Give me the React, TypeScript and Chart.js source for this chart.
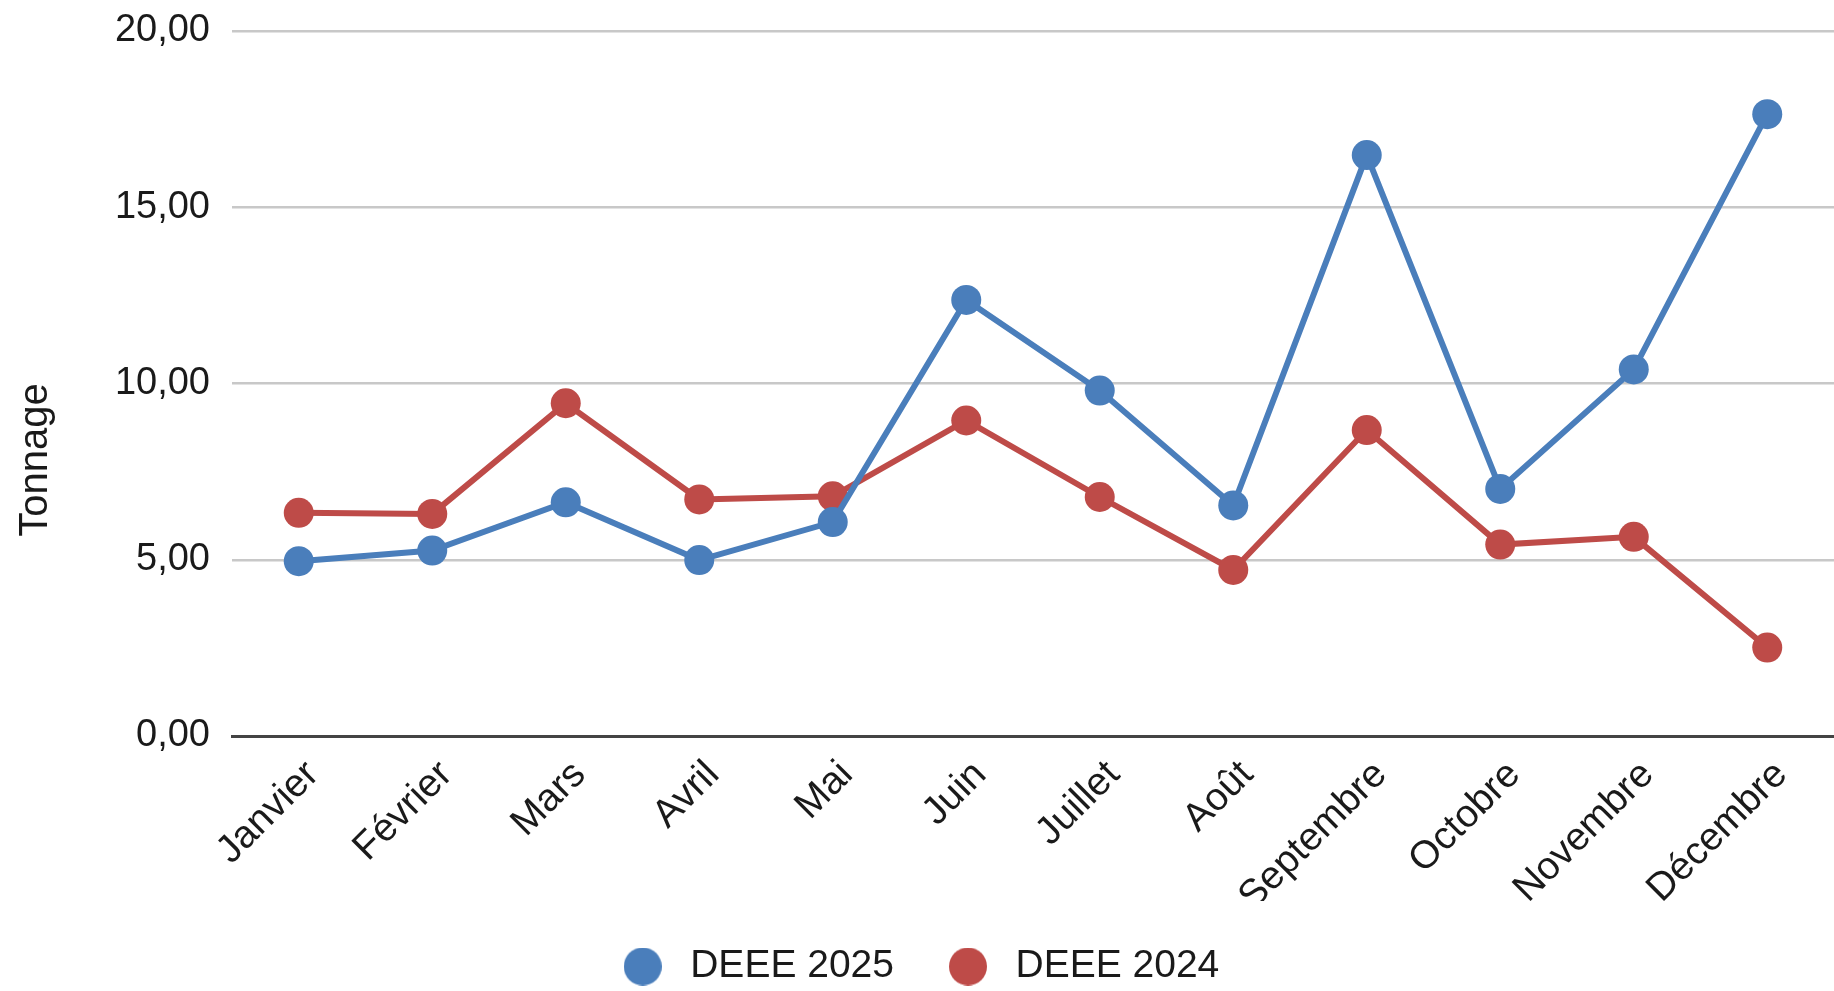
import React, { useEffect, useRef } from "react";
import { Chart, registerables } from "chart.js";

Chart.register(...registerables);

const MONTHS = [
  "Janvier",
  "Février",
  "Mars",
  "Avril",
  "Mai",
  "Juin",
  "Juillet",
  "Août",
  "Septembre",
  "Octobre",
  "Novembre",
  "Décembre",
];

const SERIES_LABELS = ["DEEE 2025", "DEEE 2024"];
const DEEE_2025 = [4.96, 5.26, 6.63, 4.99, 6.07, 12.37, 9.8, 6.54, 16.48, 7.01, 10.4, 17.64];
const DEEE_2024 = [6.33, 6.3, 9.44, 6.71, 6.8, 8.95, 6.78, 4.71, 8.68, 5.43, 5.65, 2.51];
const Y_TITLE = "Tonnage";
const Y_MIN = 0;
const Y_MAX = 20;
const Y_STEP = 5;

const COLORS = ["#4a7ebb", "#be4b48"];
const FONT = '"Liberation Sans", Arial, sans-serif';
const TEXT_COLOR = "#1a1a1a";

function makeDot(color: string, r: number): HTMLCanvasElement {
  const c = document.createElement("canvas");
  c.width = r * 2;
  c.height = r * 2;
  const g = c.getContext("2d");
  if (g) {
    g.fillStyle = color;
    g.beginPath();
    g.arc(r, r, r, 0, Math.PI * 2);
    g.fill();
  }
  return c;
}

const yTitlePlugin = {
  id: "yTitleLeft",
  afterDraw(chart: any) {
    const ctx = chart.ctx;
    const area = chart.chartArea;
    const xs = chart.scales.x;
    ctx.save();
    ctx.font = `40px ${FONT}`;
    ctx.fillStyle = TEXT_COLOR;
    ctx.textAlign = "center";
    ctx.textBaseline = "middle";
    ctx.translate(36, (area.top + xs.bottom) / 2 - 6);
    ctx.rotate(-Math.PI / 2);
    ctx.fillText(Y_TITLE, 0, 0);
    ctx.restore();
  },
};

export default function App() {
  const ref = useRef<HTMLCanvasElement | null>(null);

  useEffect(() => {
    if (!ref.current) return;
    const chart = new Chart(ref.current, {
      type: "line",
      data: {
        labels: MONTHS,
        datasets: [
          {
            label: SERIES_LABELS[0],
            data: DEEE_2025,
            borderColor: COLORS[0],
            backgroundColor: COLORS[0],
            pointBackgroundColor: COLORS[0],
            pointBorderColor: COLORS[0],
            borderWidth: 6,
            pointRadius: 15,
            pointBorderWidth: 0,
            tension: 0,
          },
          {
            label: SERIES_LABELS[1],
            data: DEEE_2024,
            borderColor: COLORS[1],
            backgroundColor: COLORS[1],
            pointBackgroundColor: COLORS[1],
            pointBorderColor: COLORS[1],
            borderWidth: 6,
            pointRadius: 15,
            pointBorderWidth: 0,
            tension: 0,
          },
        ],
      },
      options: {
        animation: false,
        responsive: true,
        maintainAspectRatio: false,
        layout: { autoPadding: false, padding: { top: 31, left: 0, right: 0, bottom: -5 } },
        plugins: {
          tooltip: { enabled: false },
          legend: {
            position: "bottom",
            labels: {
              usePointStyle: true,
              pointStyleWidth: 56,
              padding: 46,
              color: TEXT_COLOR,
              font: { family: FONT, size: 39 },
              generateLabels: (ch: any) => {
                const items = Chart.defaults.plugins.legend.labels.generateLabels(ch);
                return items.map((it: any, i: number) => ({
                  ...it,
                  pointStyle: makeDot(COLORS[i % COLORS.length], 19),
                  lineWidth: 0,
                }));
              },
            },
          },
        },
        scales: {
          x: {
            offset: true,
            grid: { display: false, drawTicks: false },
            border: { display: true, color: "#444444", width: 3 },
            ticks: {
              autoSkip: false,
              maxRotation: 45,
              minRotation: 45,
              padding: 16,
              labelOffset: 14,
              color: TEXT_COLOR,
              font: { family: FONT, size: 39 },
            },
            afterFit: (s: any) => {
              s.height = 165;
              s.paddingLeft = 0;
              s.paddingRight = 0;
            },
          },
          y: {
            min: Y_MIN,
            max: Y_MAX,
            grid: {
              color: "#c8c8c8",
              lineWidth: 2.5,
              drawTicks: true,
              tickLength: 20,
              tickColor: "rgba(0,0,0,0)",
            },
            border: { display: false },
            ticks: {
              stepSize: Y_STEP,
              padding: 2,
              color: TEXT_COLOR,
              font: { family: FONT, size: 38 },
              callback: (v: any) => Number(v).toFixed(2).replace(".", ","),
            },
            afterFit: (s: any) => {
              s.width = 232;
              s.paddingTop = 0;
              s.paddingBottom = 0;
            },
          },
        },
      },
      plugins: [yTitlePlugin],
    });
    return () => chart.destroy();
  }, []);

  return (
    <div
      style={{
        position: "fixed",
        left: 0,
        top: 0,
        width: "1834px",
        height: "991px",
        background: "#ffffff",
      }}
    >
      <canvas ref={ref} />
    </div>
  );
}
